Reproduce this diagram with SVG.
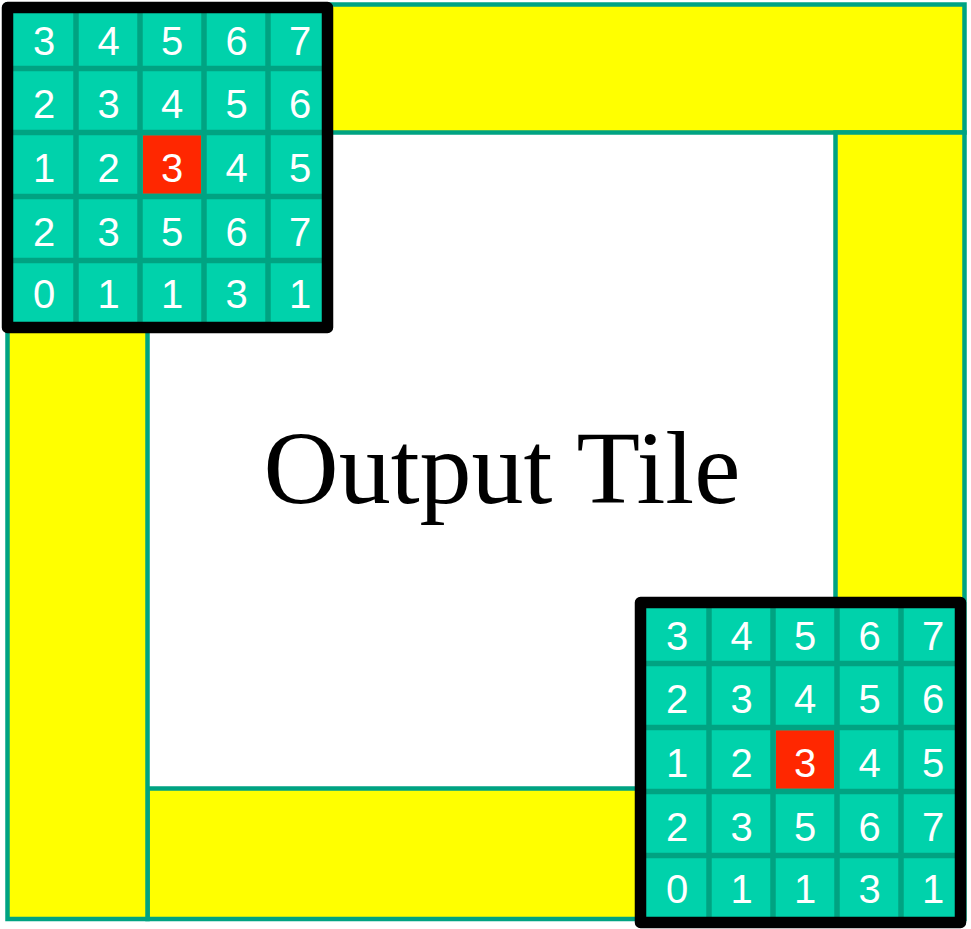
<svg xmlns="http://www.w3.org/2000/svg" width="971" height="929" viewBox="0 0 971 929">
  <style>
    .bar { fill: #ffff00; stroke: #00a382; stroke-width: 4.5; }
    .cellbg { fill: #00d2ab; }
    .hot { fill: #ff2700; }
    .gridline { stroke: #00a382; stroke-width: 5.5; }
    .border { fill: none; stroke: #000000; stroke-width: 11.5; stroke-linejoin: round; }
    .num { font-family: "Liberation Sans", Arial, sans-serif; font-size: 40px; fill: #ffffff; text-anchor: middle; }
    .title { font-family: "Palatino Linotype", "Book Antiqua", Palatino, "Liberation Serif", serif; font-size: 104px; fill: #000000; text-anchor: middle; }
  </style>

  <rect x="0" y="0" width="971" height="929" fill="#ffffff"/>

  <!-- halo frame: four bars wrapped around the tile -->
  <g id="bar-top"><rect class="bar" x="7.5" y="4.5" width="957" height="128"/></g>
  <g id="bar-right"><rect class="bar" x="835.5" y="132.5" width="129" height="786.5"/></g>
  <g id="bar-bottom"><rect class="bar" x="147.5" y="788.5" width="688" height="130.5"/></g>
  <g id="bar-left"><rect class="bar" x="7.5" y="132.5" width="140" height="786.5"/></g>

  <!-- centre label -->
  <g id="output-tile">
    <text class="title" x="502" y="503">Output Tile</text>
  </g>

  <!-- 5x5 window, top-left corner -->
  <g id="window-top-left">
    <rect class="cellbg" x="8" y="8" width="319" height="319"/>
    <rect class="hot" x="142.75" y="135.25" width="58.5" height="58.5"/>
    <line class="gridline" x1="76" y1="8" x2="76" y2="327"/>
    <line class="gridline" x1="140" y1="8" x2="140" y2="327"/>
    <line class="gridline" x1="204" y1="8" x2="204" y2="327"/>
    <line class="gridline" x1="268" y1="8" x2="268" y2="327"/>
    <line class="gridline" x1="8" y1="68.5" x2="327" y2="68.5"/>
    <line class="gridline" x1="8" y1="132.5" x2="327" y2="132.5"/>
    <line class="gridline" x1="8" y1="196.5" x2="327" y2="196.5"/>
    <line class="gridline" x1="8" y1="260.5" x2="327" y2="260.5"/>
    <rect class="border" x="7.5" y="7.5" width="320" height="320"/>
    <text class="num" x="44" y="54.5">3</text>
    <text class="num" x="108.5" y="54.5">4</text>
    <text class="num" x="172" y="54.5">5</text>
    <text class="num" x="236.5" y="54.5">6</text>
    <text class="num" x="300" y="54.5">7</text>
    <text class="num" x="44" y="118">2</text>
    <text class="num" x="108.5" y="118">3</text>
    <text class="num" x="172" y="118">4</text>
    <text class="num" x="236.5" y="118">5</text>
    <text class="num" x="300" y="118">6</text>
    <text class="num" x="44" y="181.5">1</text>
    <text class="num" x="108.5" y="181.5">2</text>
    <text class="num" x="172" y="181.5">3</text>
    <text class="num" x="236.5" y="181.5">4</text>
    <text class="num" x="300" y="181.5">5</text>
    <text class="num" x="44" y="245.5">2</text>
    <text class="num" x="108.5" y="245.5">3</text>
    <text class="num" x="172" y="245.5">5</text>
    <text class="num" x="236.5" y="245.5">6</text>
    <text class="num" x="300" y="245.5">7</text>
    <text class="num" x="44" y="307.5">0</text>
    <text class="num" x="108.5" y="307.5">1</text>
    <text class="num" x="172" y="307.5">1</text>
    <text class="num" x="236.5" y="307.5">3</text>
    <text class="num" x="300" y="307.5">1</text>
  </g>

  <!-- 5x5 window, bottom-right corner -->
  <g id="window-bottom-right" transform="translate(633 595)">
    <rect class="cellbg" x="8" y="8" width="319" height="319"/>
    <rect class="hot" x="142.75" y="135.25" width="58.5" height="58.5"/>
    <line class="gridline" x1="76" y1="8" x2="76" y2="327"/>
    <line class="gridline" x1="140" y1="8" x2="140" y2="327"/>
    <line class="gridline" x1="204" y1="8" x2="204" y2="327"/>
    <line class="gridline" x1="268" y1="8" x2="268" y2="327"/>
    <line class="gridline" x1="8" y1="68.5" x2="327" y2="68.5"/>
    <line class="gridline" x1="8" y1="132.5" x2="327" y2="132.5"/>
    <line class="gridline" x1="8" y1="196.5" x2="327" y2="196.5"/>
    <line class="gridline" x1="8" y1="260.5" x2="327" y2="260.5"/>
    <rect class="border" x="7.5" y="7.5" width="320" height="320"/>
    <text class="num" x="44" y="54.5">3</text>
    <text class="num" x="108.5" y="54.5">4</text>
    <text class="num" x="172" y="54.5">5</text>
    <text class="num" x="236.5" y="54.5">6</text>
    <text class="num" x="300" y="54.5">7</text>
    <text class="num" x="44" y="118">2</text>
    <text class="num" x="108.5" y="118">3</text>
    <text class="num" x="172" y="118">4</text>
    <text class="num" x="236.5" y="118">5</text>
    <text class="num" x="300" y="118">6</text>
    <text class="num" x="44" y="181.5">1</text>
    <text class="num" x="108.5" y="181.5">2</text>
    <text class="num" x="172" y="181.5">3</text>
    <text class="num" x="236.5" y="181.5">4</text>
    <text class="num" x="300" y="181.5">5</text>
    <text class="num" x="44" y="245.5">2</text>
    <text class="num" x="108.5" y="245.5">3</text>
    <text class="num" x="172" y="245.5">5</text>
    <text class="num" x="236.5" y="245.5">6</text>
    <text class="num" x="300" y="245.5">7</text>
    <text class="num" x="44" y="307.5">0</text>
    <text class="num" x="108.5" y="307.5">1</text>
    <text class="num" x="172" y="307.5">1</text>
    <text class="num" x="236.5" y="307.5">3</text>
    <text class="num" x="300" y="307.5">1</text>
  </g>
</svg>
